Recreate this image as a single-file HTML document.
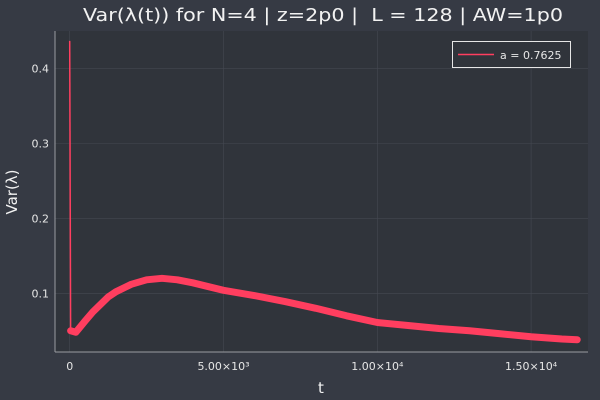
<!DOCTYPE html>
<html><head><meta charset="utf-8"><style>
body{margin:0;background:#363a44;}
svg{display:block;font-family:"DejaVu Sans","Liberation Sans",sans-serif;}
text{white-space:pre;}
</style></head><body>
<svg id="chart" width="600" height="400">
<rect width="600" height="400" fill="#363a44"/>
<rect x="55" y="31" width="533" height="321" fill="#30343b"/>
<g id="grid"></g>
<g id="series"></g>
<line x1="55" y1="31" x2="55" y2="352" stroke="#9a9ca2" stroke-width="1"/>
<line x1="55" y1="352" x2="588" y2="352" stroke="#9a9ca2" stroke-width="1"/>
<g id="ticks" fill="#e6e6e6" font-size="11"></g>
<text x="83" y="21" fill="#f2f2f2" font-size="18" textLength="480" lengthAdjust="spacingAndGlyphs">Var(λ(t)) for N=4 | z=2p0 |  L = 128 | AW=1p0</text>
<text x="321" y="393" fill="#f2f2f2" font-size="15" text-anchor="middle">t</text>
<text x="17" y="192" fill="#f2f2f2" font-size="15" text-anchor="middle" transform="rotate(-90 17 192)">Var(λ)</text>
<g>
<rect x="452.5" y="41.5" width="118" height="26" fill="#30343b" stroke="#e6e6e6" stroke-width="1"/>
<line x1="458" y1="54.5" x2="494" y2="54.5" stroke="#ff3e5f" stroke-width="1.5"/>
<text x="500" y="59" fill="#e6e6e6" font-size="11">a = 0.7625</text>
</g>
</svg>
<script>
const tVals=[0,30,200,500,750,1000,1250,1500,2000,2500,3000,3500,4000,4500,5000,6000,7000,8000,9000,10000,11000,12000,13000,14000,15000,16000,16500];
const varVals=[0.437,0.05,0.048,0.063,0.075,0.085,0.095,0.102,0.112,0.118,0.120,0.118,0.114,0.109,0.104,0.097,0.089,0.080,0.070,0.061,0.057,0.053,0.050,0.046,0.042,0.039,0.038];
const xTicks=[0,5000,10000,15000];
const xTickLabels=["0","5.00×10³","1.00×10⁴","1.50×10⁴"];
const yTicks=[0.1,0.2,0.3,0.4];
const yTickLabels=["0.1","0.2","0.3","0.4"];
const xs=t=>69.7+t*(153.8/5000);
const ys=v=>368.2-v*749;
const NS="http://www.w3.org/2000/svg";
const grid=document.getElementById('grid'),ticks=document.getElementById('ticks'),series=document.getElementById('series');
xTicks.forEach((t,i)=>{
 const l=document.createElementNS(NS,'line');
 l.setAttribute('x1',xs(t));l.setAttribute('x2',xs(t));l.setAttribute('y1',31);l.setAttribute('y2',352);
 l.setAttribute('stroke','#454952');l.setAttribute('stroke-width','0.6');
 
 
 grid.appendChild(l);
 const tx=document.createElementNS(NS,'text');
 tx.setAttribute('x',xs(t));tx.setAttribute('y',370);tx.setAttribute('text-anchor','middle');
 tx.textContent=xTickLabels[i];
 
 
 ticks.appendChild(tx);
});
yTicks.forEach((v,i)=>{
 const l=document.createElementNS(NS,'line');
 l.setAttribute('x1',55);l.setAttribute('x2',588);l.setAttribute('y1',ys(v));l.setAttribute('y2',ys(v));
 l.setAttribute('stroke','#454952');l.setAttribute('stroke-width','0.6');
 
 
 grid.appendChild(l);
 const tx=document.createElementNS(NS,'text');
 tx.setAttribute('x',49);tx.setAttribute('y',ys(v)+4);tx.setAttribute('text-anchor','end');
 tx.textContent=yTickLabels[i];
 
 
 ticks.appendChild(tx);
});
const spike=document.createElementNS(NS,'polyline');
spike.setAttribute('points',tVals.slice(0,2).map((t,i)=>xs(t)+','+ys(varVals[i])).join(' '));
spike.setAttribute('fill','none');spike.setAttribute('stroke','#ff3e5f');spike.setAttribute('stroke-width','1.5');


series.appendChild(spike);
const band=document.createElementNS(NS,'polyline');
band.setAttribute('points',tVals.slice(1).map((t,i)=>xs(t)+','+ys(varVals[i+1])).join(' '));
band.setAttribute('fill','none');band.setAttribute('stroke','#ff3e5f');band.setAttribute('stroke-width','7');
band.setAttribute('stroke-linejoin','round');band.setAttribute('stroke-linecap','round');


series.appendChild(band);
</script>
</body></html>
